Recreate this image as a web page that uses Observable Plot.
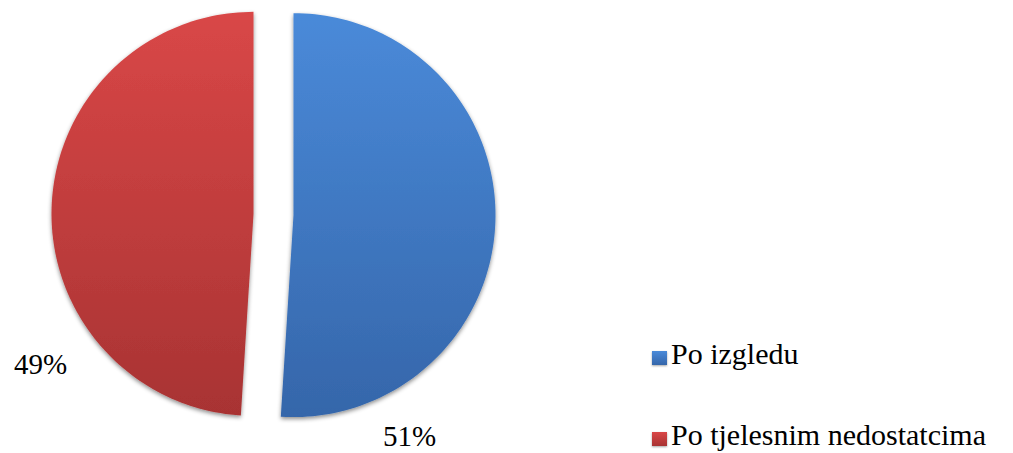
<!DOCTYPE html>
<html>
<head>
<meta charset="utf-8">
<script src="https://cdn.jsdelivr.net/npm/d3@7"></script>
<script src="https://cdn.jsdelivr.net/npm/@observablehq/plot@0.6"></script>
<style>
  html, body { margin: 0; padding: 0; background: #fff; font-family: 'Liberation Serif', 'Times New Roman', serif; }
  #wrap { position: relative; width: 1013px; height: 453px; }
  .leg { position: absolute; font-size: 30px; line-height: 30px; color: #000; white-space: nowrap; }
  .sw { position: absolute; width: 15px; height: 14px; }
</style>
</head>
<body>
<div id="wrap"></div>
<script>
const categories = ["Po izgledu", "Po tjelesnim nedostatcima"];
const values = [51, 49];
const valueLabels = ["51%", "49%"];
const colorsTop = ["#4a8ad9", "#d94747"];
const colorsBottom = ["#3566aa", "#a83333"];

const W = 1013, H = 453;
const R = 202, CX = 273, CY = 214;   // pie layout (pixels)
const explode = 20 / R;
const FONT = "'Liberation Serif', 'Times New Roman', serif";

const pie = d3.pie().sort(null).value(d => d.value).startAngle(0).endAngle(2 * Math.PI);
const arcs = pie(categories.map((c, i) => ({category: c, value: values[i], label: valueLabels[i], i})));

const pts = [];
const labelFrac = [0.83, 0.29];
const labelRad = [1.24, 1.29];
const labelPts = [];
arcs.forEach(a => {
  const mid = (a.startAngle + a.endAngle) / 2;
  const ox = explode * Math.sin(mid), oy = -explode * Math.cos(mid);
  pts.push({category: a.data.category, x: ox, y: oy});
  const n = 120;
  for (let k = 0; k <= n; k++) {
    const t = a.startAngle + (a.endAngle - a.startAngle) * k / n;
    pts.push({category: a.data.category, x: ox + Math.sin(t), y: oy - Math.cos(t)});
  }
  const i = a.data.i;
  const la = a.startAngle + (a.endAngle - a.startAngle) * labelFrac[i];
  labelPts.push({label: a.data.label, x: ox + labelRad[i] * Math.sin(la), y: oy - labelRad[i] * Math.cos(la)});
});

const chart = Plot.plot({
  width: W,
  height: H,
  margin: 0,
  style: {fontFamily: FONT},
  x: {domain: [-CX / R, (W - CX) / R], range: [0, W], axis: null},
  y: {domain: [-CY / R, (H - CY) / R], range: [0, H], axis: null},
  marks: [
    ...categories.map((c, i) => Plot.line(pts.filter(p => p.category === c), {
      x: "x", y: "y", curve: "linear-closed",
      fill: `url(#grad${i})`, stroke: "none"
    })),
    Plot.text(labelPts, {
      x: "x", y: "y", text: "label",
      fontSize: 29, fontFamily: FONT, fill: "#000"
    })
  ]
});

const svg = d3.select(chart);
const defs = svg.insert("defs", ":first-child");
categories.forEach((c, i) => {
  const g = defs.append("linearGradient").attr("id", `grad${i}`)
    .attr("x1", 0).attr("y1", 0).attr("x2", 0).attr("y2", 1);
  g.append("stop").attr("offset", "0%").attr("stop-color", colorsTop[i]);
  g.append("stop").attr("offset", "100%").attr("stop-color", colorsBottom[i]);
});
const f = defs.append("filter").attr("id", "shadow").attr("x", "-10%").attr("y", "-10%").attr("width", "120%").attr("height", "120%");
f.append("feDropShadow").attr("dx", 0).attr("dy", 2).attr("stdDeviation", 2)
  .attr("flood-color", "#000").attr("flood-opacity", 0.45);
svg.selectAll("g[aria-label=line] path").attr("filter", "url(#shadow)");

const wrap = document.getElementById("wrap");
wrap.appendChild(chart);

const legTop = [339, 420];
categories.forEach((c, i) => {
  const sw = document.createElement("div");
  sw.className = "sw";
  sw.style.left = "652px";
  sw.style.top = (legTop[i] + 12) + "px";
  sw.style.background = `linear-gradient(${colorsTop[i]}, ${colorsBottom[i]})`;
  sw.style.boxShadow = "0 1px 2px rgba(0,0,0,0.35)";
  wrap.appendChild(sw);
  const t = document.createElement("div");
  t.className = "leg";
  t.style.left = "671px";
  t.style.top = legTop[i] + "px";
  t.textContent = c;
  wrap.appendChild(t);
});
</script>
</body>
</html>
